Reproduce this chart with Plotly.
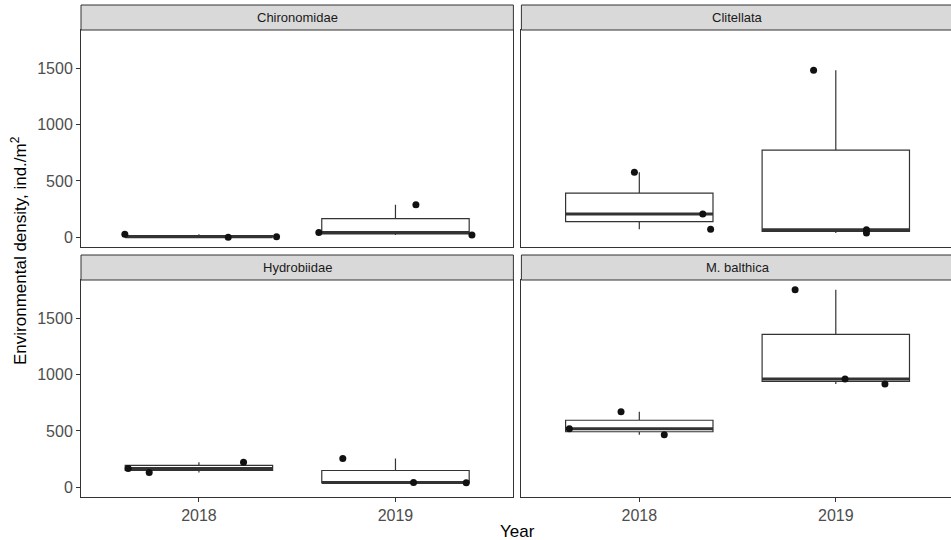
import numpy as np
import plotly.graph_objects as go

# ---------------- data ----------------
taxa = ["Chironomidae", "Clitellata", "Hydrobiidae", "M. balthica"]
years = ["2018", "2019"]

# densities (ind./m2), three replicates per taxon and year
chironomidae_2018 = [25, 0, 3]
chironomidae_2019 = [41, 288, 18]
clitellata_2018 = [576, 205, 71]
clitellata_2019 = [1483, 65, 36]
hydrobiidae_2018 = [166, 130, 222]
hydrobiidae_2019 = [255, 41, 38]
balthica_2018 = [670, 519, 466]
balthica_2019 = [1754, 962, 917]

# horizontal jitter of the plotted points (in category units)
jit_chironomidae_2018 = [-0.377, 0.149, 0.395]
jit_chironomidae_2019 = [-0.39, 0.104, 0.389]
jit_clitellata_2018 = [-0.025, 0.323, 0.363]
jit_clitellata_2019 = [-0.113, 0.156, 0.156]
jit_hydrobiidae_2018 = [-0.36, -0.253, 0.227]
jit_hydrobiidae_2019 = [-0.268, 0.092, 0.36]
jit_balthica_2018 = [-0.093, -0.356, 0.127]
jit_balthica_2019 = [-0.207, 0.047, 0.25]

values = {
    "Chironomidae": [chironomidae_2018, chironomidae_2019],
    "Clitellata": [clitellata_2018, clitellata_2019],
    "Hydrobiidae": [hydrobiidae_2018, hydrobiidae_2019],
    "M. balthica": [balthica_2018, balthica_2019],
}
jitters = {
    "Chironomidae": [jit_chironomidae_2018, jit_chironomidae_2019],
    "Clitellata": [jit_clitellata_2018, jit_clitellata_2019],
    "Hydrobiidae": [jit_hydrobiidae_2018, jit_hydrobiidae_2019],
    "M. balthica": [jit_balthica_2018, jit_balthica_2019],
}
y_ticks = [0, 500, 1000, 1500]

# ---------------- layout geometry ----------------
W, H = 951, 540
ml, mr, mt, mb = 81, 0, 5, 43
pw, ph = W - ml - mr, H - mt - mb

def px_x(p):
    return (p - ml) / pw

def px_y(p):
    return (H - mb - p) / ph

x_doms = [[0, px_x(513.4)], [px_x(521.4), 1.0]]
y_panels = [(30, 247), (280, 497)]   # plot area top/bottom px
y_strips = [(5, 30), (255, 280)]

box_w = 0.75
line_col = "#333333"
FONT = "Liberation Sans, Arial, sans-serif"

all_vals = [v for t in taxa for grp in values[t] for v in grp]
vmin, vmax = min(all_vals), max(all_vals)
pad = 0.05 * (vmax - vmin)
y_range = [vmin - pad, vmax + pad]

fig = go.Figure()
shapes = []
annotations = []

for i, taxon in enumerate(taxa):
    r, c = divmod(i, 2)
    n = i + 1
    xa = "x" if n == 1 else f"x{n}"
    ya = "y" if n == 1 else f"y{n}"
    xkey = "xaxis" if n == 1 else f"xaxis{n}"
    ykey = "yaxis" if n == 1 else f"yaxis{n}"
    top, bot = y_panels[r]
    s_top, s_bot = y_strips[r]

    for k, yr in enumerate(years):
        xc = k + 1
        d = np.array(values[taxon][k], dtype=float)
        q1, med, q3 = np.percentile(d, [25, 50, 75])
        iqr = q3 - q1
        lo = d[d >= q1 - 1.5 * iqr].min()
        hi = d[d <= q3 + 1.5 * iqr].max()
        fig.add_trace(go.Box(
            x=[xc], q1=[q1], median=[med], q3=[q3],
            lowerfence=[lo], upperfence=[hi],
            width=box_w, fillcolor="white",
            line=dict(color=line_col, width=1.2),
            whiskerwidth=0, boxpoints=False, showlegend=False,
            xaxis=xa, yaxis=ya, hoverinfo="skip",
        ))
        # thick median line (ggplot fatten)
        fig.add_trace(go.Scatter(
            x=[xc - box_w / 2, xc + box_w / 2], y=[med, med], mode="lines",
            line=dict(color=line_col, width=3), showlegend=False,
            xaxis=xa, yaxis=ya, hoverinfo="skip",
        ))
        # jittered points
        fig.add_trace(go.Scatter(
            x=[xc + j for j in jitters[taxon][k]], y=values[taxon][k],
            mode="markers", marker=dict(color="#111111", size=7),
            showlegend=False, xaxis=xa, yaxis=ya,
        ))

    x_right = 2.6 if c == 0 else 2.6 - (953.7 - 951) / 196.5
    fig.layout[xkey] = dict(
        domain=x_doms[c], range=[0.4, x_right], anchor=ya,
        tickvals=[1, 2], ticktext=years,
        showticklabels=(r == 1), ticks="outside" if r == 1 else "",
        ticklen=4, tickwidth=1, tickcolor=line_col,
        tickfont=dict(family=FONT, size=16, color="#4d4d4d"),
        showgrid=False, zeroline=False, showline=True, mirror=True,
        linecolor=line_col, linewidth=1,
    )
    fig.layout[ykey] = dict(
        domain=[px_y(bot), px_y(top)], range=y_range, anchor=xa,
        tickvals=y_ticks, showticklabels=(c == 0),
        ticks="outside" if c == 0 else "",
        ticklen=4, tickwidth=1, tickcolor=line_col,
        tickfont=dict(family=FONT, size=16, color="#4d4d4d"),
        showgrid=False, zeroline=False, showline=True, mirror=True,
        linecolor=line_col, linewidth=1,
    )
    # strip
    shapes.append(dict(
        type="rect", xref="paper", yref="paper",
        x0=x_doms[c][0], x1=x_doms[c][1] + (0.01 if c == 1 else 0),
        y0=px_y(s_bot), y1=px_y(s_top),
        fillcolor="#d9d9d9", line=dict(color=line_col, width=1), layer="above",
    ))
    annotations.append(dict(
        text=taxon, xref="paper", yref="paper",
        x=(x_doms[c][0] + (x_doms[c][0] + (px_x(953.7) - px_x(521.4)) if c == 1 else x_doms[c][1])) / 2,
        y=(px_y(s_bot) + px_y(s_top)) / 2,
        showarrow=False, xanchor="center", yanchor="middle",
        font=dict(family=FONT, size=13, color="#1a1a1a"),
    ))

annotations.append(dict(
    text="Year", xref="paper", yref="paper",
    x=px_x((81 + 953.7) / 2), y=px_y(531), showarrow=False,
    xanchor="center", yanchor="middle",
    font=dict(family=FONT, size=17, color="black"),
))
annotations.append(dict(
    text="Environmental density, ind./m<sup>2</sup>", xref="paper", yref="paper",
    x=px_x(19), y=px_y(251), showarrow=False, textangle=-90,
    xanchor="center", yanchor="middle",
    font=dict(family=FONT, size=17, color="black"),
))

fig.update_layout(
    width=W, height=H, margin=dict(l=ml, r=mr, t=mt, b=mb),
    paper_bgcolor="white", plot_bgcolor="white",
    boxmode="overlay", shapes=shapes, annotations=annotations,
    showlegend=False,
)

fig.write_html(
    "out.html",
    config={"displayModeBar": False},
    post_script="document.body.style.margin='0px';document.body.style.overflow='hidden';",
)
